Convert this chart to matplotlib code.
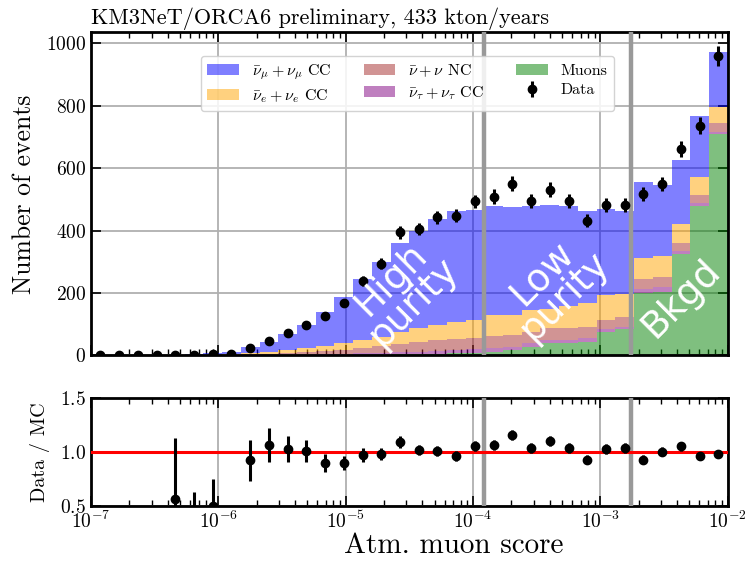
import numpy as np
import matplotlib
matplotlib.use("Agg")
import matplotlib.pyplot as plt
from matplotlib.patches import Patch

plt.rcParams["font.family"] = "serif"
plt.rcParams["font.serif"] = ["cmr10"]
plt.rcParams["mathtext.fontset"] = "cm"
plt.rcParams["axes.formatter.use_mathtext"] = True

# 34 log-spaced bins in the atm. muon score
edges = np.logspace(-7, -2, 35)

# per-bin event counts
muons = [0, 0, 0, 0, 0, 0, 0, 0, 0, 0, 0, 0.5, 1, 1, 2, 2, 3, 4, 5, 6, 8,
         12, 17, 28, 38, 40, 44, 75, 84, 199, 202, 325, 480, 710]
nutau_cc = [0, 0, 0, 0, 0, 0, 0.1, 0.2, 0.5, 1, 1.5, 1.5, 2, 3, 4, 6, 7, 8, 10, 12, 12,
            12, 11, 12, 10, 10, 11, 9, 8, 13, 16, 8, 8, 6]
nu_nc = [0, 0, 0, 0, 0.2, 0.5, 0.7, 0.8, 2.5, 4, 5.5, 8, 11, 14, 18, 22, 26, 30, 33, 34, 36,
         38, 36, 34, 38, 39, 37, 28, 30, 33, 32, 27, 27, 29]
nue_cc = [0, 0, 0, 0, 0.3, 0.8, 1.2, 2, 5, 7, 9, 12, 16, 20, 24, 30, 39, 44, 48, 56, 57,
          67, 64, 71, 62, 69, 75, 80, 75, 68, 67, 61, 55, 50]
numu_cc = [0, 0, 0, 0, 1.27, 4.1, 6.0, 7, 18, 32, 52, 75, 110, 150, 197, 240, 286, 311, 342, 355, 354,
           350, 347, 334, 334, 319, 297, 277, 267, 242, 230, 206, 196, 178]
data = [0, 0, 0, 0, 1, 2, 4, 3, 24, 47, 70, 98, 126, 169, 238, 294, 394, 405, 442, 447, 493,
        509, 550, 496, 531, 495, 432, 481, 482, 517, 549, 661, 736, 959]

# selection cuts (high purity / low purity / background)
cuts = [1.23e-4, 1.75e-3]

# stacked from bottom to top
components = [
    (muons, "green", "Muons"),
    (nutau_cc, "purple", r"$\bar{\nu}_\tau + \nu_\tau$ CC"),
    (nu_nc, "brown", r"$\bar{\nu} + \nu$ NC"),
    (nue_cc, "orange", r"$\bar{\nu}_e + \nu_e$ CC"),
    (numu_cc, "blue", r"$\bar{\nu}_\mu + \nu_\mu$ CC"),
]

centers = np.sqrt(edges[:-1] * edges[1:])
data = np.array(data, dtype=float)

fig = plt.figure(figsize=(7.49, 5.61), dpi=100)
ax = fig.add_axes([0.1215, 0.3667, 0.8501, 0.5755])
axr = fig.add_axes([0.1215, 0.098, 0.8501, 0.192], sharex=ax)

bottom = np.zeros(len(centers))
handles = {}
for vals, color, label in components:
    vals = np.array(vals, dtype=float)
    ax.stairs(bottom + vals, edges, baseline=bottom, fill=True,
              color=color, alpha=0.5, linewidth=0, zorder=2)
    handles[label] = Patch(facecolor=color, alpha=0.5, label=label)
    bottom = bottom + vals
mc_total = bottom

dat = ax.errorbar(centers, data, yerr=np.sqrt(data), fmt="o", color="black",
                  markersize=6, elinewidth=2.2, capsize=0, zorder=4, label="Data")

for c in cuts:
    ax.axvline(c, color="#999999", linewidth=3.2, zorder=3)
    axr.axvline(c, color="#999999", linewidth=3.2, zorder=3)

ax.set_xscale("log")
ax.set_xlim(1e-7, 1e-2)
ax.set_ylim(0, 1035)
ax.set_yticks([0, 200, 400, 600, 800, 1000])
ax.set_ylabel("Number of events", fontsize=18.5, labelpad=7)
ax.set_title("KM3NeT/ORCA6 preliminary, 433 kton/years", loc="left", fontsize=16, pad=6)
ax.grid(True, color="#b0b0b0", linewidth=1.3, zorder=0)
ax.set_axisbelow(True)
ax.tick_params(labelbottom=False)

order = [r"$\bar{\nu}_\mu + \nu_\mu$ CC", r"$\bar{\nu}_e + \nu_e$ CC",
         r"$\bar{\nu} + \nu$ NC", r"$\bar{\nu}_\tau + \nu_\tau$ CC", "Muons"]
leg_handles = [handles[k] for k in order] + [dat]
leg_labels = order + ["Data"]
ax.legend(leg_handles, leg_labels, ncol=3, loc="upper center",
          bbox_to_anchor=(0.497, 0.927), borderaxespad=0, fontsize=11.5,
          handlelength=2.0, columnspacing=2.0, labelspacing=0.3, framealpha=0.85)

txt = dict(color="white", family="DejaVu Sans", fontsize=27, rotation=45,
           ha="center", va="center", multialignment="center",
           linespacing=0.85, zorder=5)
ax.text(2.8e-5, 205, "High\npurity", **txt)
ax.text(4.3e-4, 225, "Low\npurity", **txt)
ax.text(4.3e-3, 182, "Bkgd", **txt)

# data / MC ratio
with np.errstate(divide="ignore", invalid="ignore"):
    ratio = data / mc_total
    ratio_err = np.sqrt(data) / mc_total
axr.errorbar(centers, ratio, yerr=ratio_err, fmt="o", color="black",
             markersize=6, elinewidth=2.2, capsize=0, zorder=4)
axr.axhline(1.0, color="red", linewidth=2.2, zorder=3)
axr.set_ylim(0.5, 1.5)
axr.set_yticks([0.5, 1.0, 1.5])
axr.set_ylabel("Data / MC", fontsize=14.5, labelpad=7)
axr.set_xlabel("Atm. muon score", fontsize=21, x=0.57, labelpad=0)
axr.grid(True, color="#b0b0b0", linewidth=1.3, zorder=0)
axr.set_axisbelow(True)

for a in (ax, axr):
    a.tick_params(which="both", direction="in", top=True, right=True, labelsize=14)
    a.tick_params(which="major", length=7, width=1.2)
    a.tick_params(which="minor", length=4, width=1.0)
    for s in a.spines.values():
        s.set_linewidth(2)

fig.savefig("out.png", dpi=100)
